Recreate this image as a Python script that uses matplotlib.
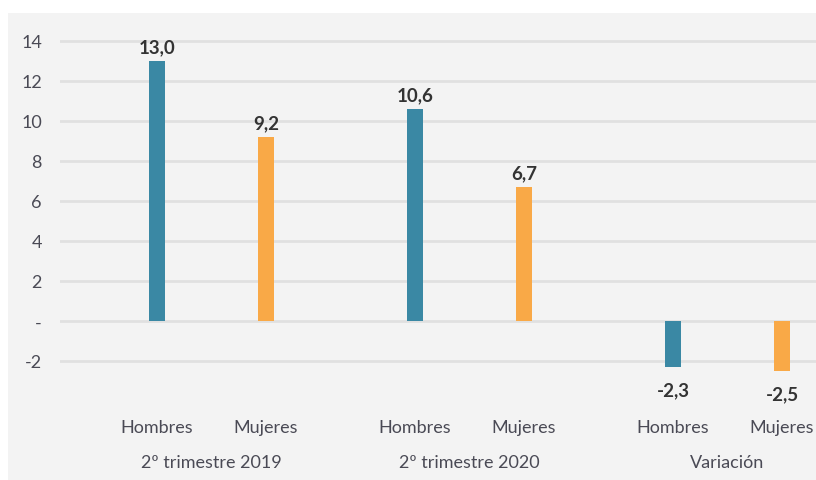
import matplotlib.pyplot as plt

plt.rcParams['font.family'] = ['Lato', 'DejaVu Sans']

groups = ['2º trimestre 2019', '2º trimestre 2020', 'Variación']
sexes = ['Hombres', 'Mujeres']
hombres = [13.0, 10.6, -2.3]
mujeres = [9.2, 6.7, -2.5]
colors = ['#3a88a4', '#f9a947']
yticks = [-2, 0, 2, 4, 6, 8, 10, 12, 14]
yticklabels = ['-2', '-', '2', '4', '6', '8', '10', '12', '14']

fig = plt.figure(figsize=(8.16, 4.81), dpi=100)
fig.patch.set_facecolor('white')
# gray panel behind the chart
bg = fig.add_axes([8 / 816, 0, 1, 1 - 14 / 481])
bg.set_facecolor('#f3f3f3')
bg.set_xticks([])
bg.set_yticks([])
for s in bg.spines.values():
    s.set_visible(False)
bg.set_zorder(0)

ax = fig.add_axes([60 / 816, 101 / 481, 756 / 816, 350 / 481])
ax.set_facecolor('none')
ax.set_zorder(1)

off = 0.211
w = 0.06
xs_h = [i - off for i in range(len(groups))]
xs_m = [i + off for i in range(len(groups))]
ax.bar(xs_h, hombres, width=w, color=colors[0], zorder=3)
ax.bar(xs_m, mujeres, width=w, color=colors[1], zorder=3)

def fmt(v):
    return f'{v:.1f}'.replace('.', ',')

for xs, vals in [(xs_h, hombres), (xs_m, mujeres)]:
    for x, v in zip(xs, vals):
        if v >= 0:
            ax.annotate(fmt(v), (x, v), xytext=(0, 4), textcoords='offset points',
                        ha='center', va='bottom', fontsize=13.5, fontweight='bold', color='#333333')
        else:
            ax.annotate(fmt(v), (x, v), xytext=(0, -10), textcoords='offset points',
                        ha='center', va='top', fontsize=13.5, fontweight='bold', color='#333333')

ax.set_ylim(-2.9, 14.6)
ax.set_xlim(-0.587, 2.343)
ax.set_yticks(yticks)
ax.set_yticklabels(yticklabels)
ax.tick_params(axis='y', length=0, pad=13, labelsize=13, labelcolor='#4a4a55')
ax.grid(axis='y', color='#e0e0e0', linewidth=2, zorder=0)
ax.set_xticks([])
for s in ax.spines.values():
    s.set_visible(False)

# category and group labels under the axis
for i, g in enumerate(groups):
    ax.annotate(sexes[0], (xs_h[i], 0), xycoords=('data', 'axes fraction'),
                xytext=(0, -34.5), textcoords='offset points', ha='center', va='center',
                fontsize=13, color='#4a4a55')
    ax.annotate(sexes[1], (xs_m[i], 0), xycoords=('data', 'axes fraction'),
                xytext=(0, -34.5), textcoords='offset points', ha='center', va='center',
                fontsize=13, color='#4a4a55')
    ax.annotate(g, (i, 0), xycoords=('data', 'axes fraction'),
                xytext=(0, -60), textcoords='offset points', ha='center', va='center',
                fontsize=13, color='#4a4a55')

fig.savefig('out.png', dpi=100)
